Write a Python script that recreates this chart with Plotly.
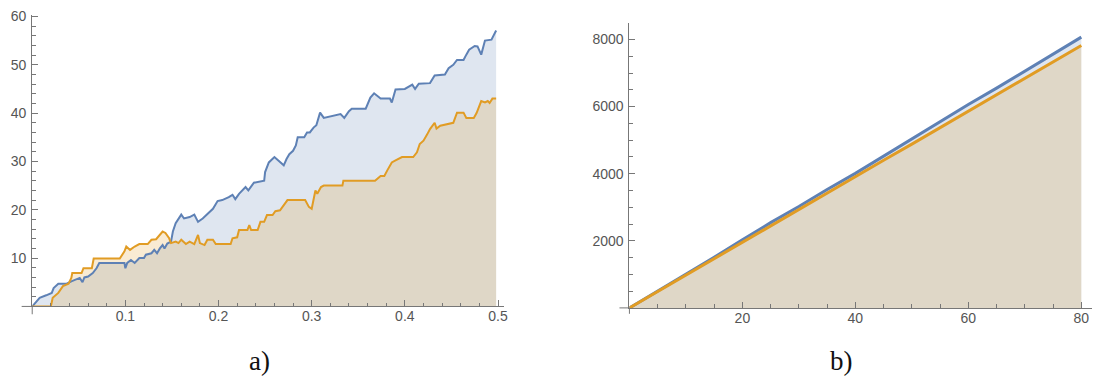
import plotly.graph_objects as go

# ---------------- data: panel a) ----------------
blue_a_x = [0.000, 0.008, 0.015, 0.021, 0.023, 0.028, 0.037, 0.042, 0.051, 0.054, 0.056, 0.060,
            0.065, 0.069, 0.072, 0.099, 0.100, 0.102, 0.106, 0.110, 0.115, 0.120, 0.122, 0.128,
            0.131, 0.134, 0.137, 0.140, 0.142, 0.145, 0.149, 0.151, 0.154, 0.160, 0.163, 0.169,
            0.174, 0.178, 0.183, 0.188, 0.194, 0.199, 0.204, 0.211, 0.215, 0.218, 0.222, 0.229,
            0.232, 0.238, 0.244, 0.249, 0.250, 0.254, 0.260, 0.270, 0.273, 0.276, 0.280, 0.283,
            0.285, 0.292, 0.295, 0.298, 0.302, 0.305, 0.309, 0.313, 0.331, 0.335, 0.340, 0.343,
            0.358, 0.363, 0.367, 0.374, 0.384, 0.386, 0.390, 0.400, 0.408, 0.411, 0.415, 0.427,
            0.432, 0.443, 0.447, 0.452, 0.456, 0.463, 0.466, 0.469, 0.475, 0.478, 0.482, 0.486,
            0.493, 0.497, 0.498]
blue_a_y = [0.0, 1.8, 2.3, 2.8, 3.8, 4.7, 4.7, 5.2, 5.9, 5.0, 6.0, 6.2,
            6.9, 7.9, 9.0, 9.0, 7.9, 9.0, 9.6, 9.0, 10.0, 10.0, 10.7, 11.0,
            11.7, 11.0, 12.0, 12.7, 12.0, 13.0, 13.4, 15.5, 17.2, 19.0, 18.2, 18.5,
            19.0, 17.5, 18.2, 19.2, 20.2, 21.8, 22.0, 22.6, 23.1, 22.2, 23.3, 24.7,
            24.0, 25.6, 25.9, 26.0, 27.8, 29.8, 30.9, 29.2, 30.5, 31.5, 32.2, 33.3,
            35.0, 35.0, 36.0, 36.0, 37.0, 37.5, 40.1, 39.0, 39.8, 39.0, 40.4, 40.9,
            40.9, 43.2, 44.1, 43.0, 43.0, 42.2, 44.9, 45.0, 45.9, 45.0, 46.1, 46.2,
            47.8, 48.0, 49.3, 50.0, 51.0, 51.0, 52.1, 53.1, 53.9, 53.8, 52.1, 55.0,
            55.2, 56.5, 57.1]

orange_a_x = [0.000, 0.020, 0.022, 0.028, 0.033, 0.039, 0.042, 0.043, 0.053, 0.055, 0.064, 0.066,
              0.094, 0.099, 0.101, 0.105, 0.110, 0.115, 0.124, 0.128, 0.133, 0.137, 0.140, 0.143,
              0.147, 0.149, 0.154, 0.157, 0.160, 0.165, 0.169, 0.174, 0.178, 0.180, 0.185, 0.188,
              0.194, 0.197, 0.213, 0.215, 0.220, 0.222, 0.231, 0.233, 0.235, 0.242, 0.245, 0.249,
              0.252, 0.258, 0.261, 0.266, 0.272, 0.274, 0.293, 0.297, 0.300, 0.302, 0.304, 0.306,
              0.310, 0.313, 0.333, 0.334, 0.368, 0.374, 0.378, 0.381, 0.386, 0.390, 0.397, 0.409,
              0.413, 0.416, 0.420, 0.424, 0.427, 0.432, 0.434, 0.438, 0.452, 0.456, 0.463, 0.466,
              0.474, 0.477, 0.479, 0.482, 0.486, 0.489, 0.491, 0.494, 0.498]
orange_a_y = [0.0, 0.0, 1.8, 2.8, 4.2, 4.7, 5.9, 6.9, 6.9, 7.9, 7.9, 9.9,
              9.9, 11.4, 12.4, 11.7, 12.4, 12.9, 12.9, 13.8, 13.9, 14.9, 15.5, 15.2,
              14.1, 13.1, 13.4, 13.1, 13.8, 12.9, 13.4, 12.9, 14.8, 13.1, 12.7, 13.8,
              13.8, 12.9, 12.9, 14.1, 14.3, 15.8, 15.8, 16.8, 15.8, 15.8, 17.5, 17.5,
              18.9, 18.9, 19.7, 19.9, 21.6, 22.0, 22.0, 20.6, 20.2, 22.0, 24.0, 23.3,
              24.7, 25.0, 25.0, 26.0, 26.0, 27.0, 27.0, 28.1, 29.8, 30.2, 30.9, 30.9,
              31.9, 33.6, 34.3, 35.6, 36.7, 38.0, 36.8, 37.4, 38.0, 40.1, 40.1, 39.0,
              39.0, 40.0, 41.1, 42.5, 42.2, 42.5, 42.1, 43.0, 43.0]

# ---------------- data: panel b) ----------------
b_x = [0, 5, 10, 15, 20, 25, 30, 35, 40, 45, 50, 55, 60, 65, 70, 75, 80]
blue_b_y = [0, 500, 1010, 1510, 2030, 2540, 3020, 3530, 4010, 4520, 5050, 5540, 6060, 6550, 7060, 7560, 8070]
orange_b_y = [0, 490, 985, 1480, 1970, 2460, 2940, 3420, 3920, 4400, 4880, 5370, 5870, 6350, 6840, 7320, 7820]

tick_a_x = [0.1, 0.2, 0.3, 0.4, 0.5]
tick_a_y = [10, 20, 30, 40, 50, 60]
tick_b_x = [20, 40, 60, 80]
tick_b_y = [2000, 4000, 6000, 8000]
panel_labels = ["a)", "b)"]

# ---------------- style ----------------
OFF = 8                     # default page body margin of the html page
W, H = 1106 - OFF, 381 - OFF
BLUE = "#5E81B5"
ORANGE = "#E19C24"
BLUE_FILL = "rgba(94,129,181,0.2)"
ORANGE_FILL = "rgba(225,156,36,0.2)"
AXIS = "#777777"
TICKFONT = dict(family="Liberation Sans, Arial, sans-serif", size=14, color="#555555")


def px(v):
    return (v - OFF) / W


def py(v):
    return 1 - (v - OFF) / H


fig = go.Figure()

# fills first, then lines on top
for xs, ys, fc, ax in [
    (blue_a_x, blue_a_y, BLUE_FILL, ("x", "y")),
    (orange_a_x, orange_a_y, ORANGE_FILL, ("x", "y")),
    (b_x, blue_b_y, BLUE_FILL, ("x2", "y2")),
    (b_x, orange_b_y, ORANGE_FILL, ("x2", "y2")),
]:
    fig.add_trace(go.Scatter(x=xs, y=ys, mode="none", fill="tozeroy", fillcolor=fc,
                             xaxis=ax[0], yaxis=ax[1], hoverinfo="skip", showlegend=False))

for xs, ys, c, w, ax in [
    (blue_a_x, blue_a_y, BLUE, 2, ("x", "y")),
    (orange_a_x, orange_a_y, ORANGE, 2, ("x", "y")),
    (b_x, blue_b_y, BLUE, 3, ("x2", "y2")),
    (b_x, orange_b_y, ORANGE, 3, ("x2", "y2")),
]:
    fig.add_trace(go.Scatter(x=xs, y=ys, mode="lines", line=dict(color=c, width=w),
                             xaxis=ax[0], yaxis=ax[1], showlegend=False))

common = dict(showgrid=False, zeroline=False, showline=True, linecolor=AXIS, linewidth=1,
              ticks="inside", ticklen=6, tickcolor=AXIS, tickwidth=1, tickfont=TICKFONT,
              ticklabeloverflow="allow", fixedrange=True)

fig.update_layout(
    width=W, height=H,
    margin=dict(l=0, r=0, t=0, b=0),
    paper_bgcolor="white", plot_bgcolor="white",
    showlegend=False,
    xaxis=dict(domain=[px(32.3), px(505.4)], range=[0, 0.506], anchor="y",
               tickmode="array", tickvals=tick_a_x, ticktext=[str(v) for v in tick_a_x],
               ticklabelstandoff=-3,
               minor=dict(dtick=0.02, tick0=0, ticks="inside", ticklen=3.5, tickcolor=AXIS),
               **common),
    yaxis=dict(domain=[py(305.0), py(8.0)], range=[0, 60.3], anchor="x",
               tickmode="array", tickvals=tick_a_y, ticktext=[str(v) for v in tick_a_y],
               ticklabelstandoff=2,
               minor=dict(dtick=2, tick0=0, ticks="inside", ticklen=3.5, tickcolor=AXIS),
               **common),
    xaxis2=dict(domain=[px(631.7), px(1096)], range=[0, 81.9], anchor="y2",
                tickmode="array", tickvals=tick_b_x, ticktext=[str(v) for v in tick_b_x],
                ticklabelstandoff=-3,
                minor=dict(dtick=5, tick0=0, ticks="inside", ticklen=3.5, tickcolor=AXIS),
                **common),
    yaxis2=dict(domain=[py(306.5), py(16.5)], range=[0, 8480], anchor="x2",
                tickmode="array", tickvals=tick_b_y, ticktext=[str(v) for v in tick_b_y],
                ticklabelstandoff=2,
                minor=dict(dtick=500, tick0=0, ticks="inside", ticklen=3.5, tickcolor=AXIS),
                **common),
)

# small axis extensions past the origin (Mathematica style)
for (x0, y0, x1, y1) in [
    (21.7, 305.0, 32.3, 305.0), (32.3, 305.0, 32.3, 313.0),
    (621.7, 306.5, 631.7, 306.5), (631.7, 306.5, 631.7, 312.5),
]:
    fig.add_shape(type="line", xref="paper", yref="paper",
                  x0=px(x0), y0=py(y0), x1=px(x1), y1=py(y1),
                  line=dict(color=AXIS, width=1))

for label, cx in zip(panel_labels, [260, 845]):
    fig.add_annotation(text=label, xref="paper", yref="paper", x=px(cx), y=py(361),
                       xanchor="center", yanchor="middle", showarrow=False,
                       font=dict(family="Liberation Serif, DejaVu Serif, serif", size=27, color="#111111"))

fig.write_html("out.html")
